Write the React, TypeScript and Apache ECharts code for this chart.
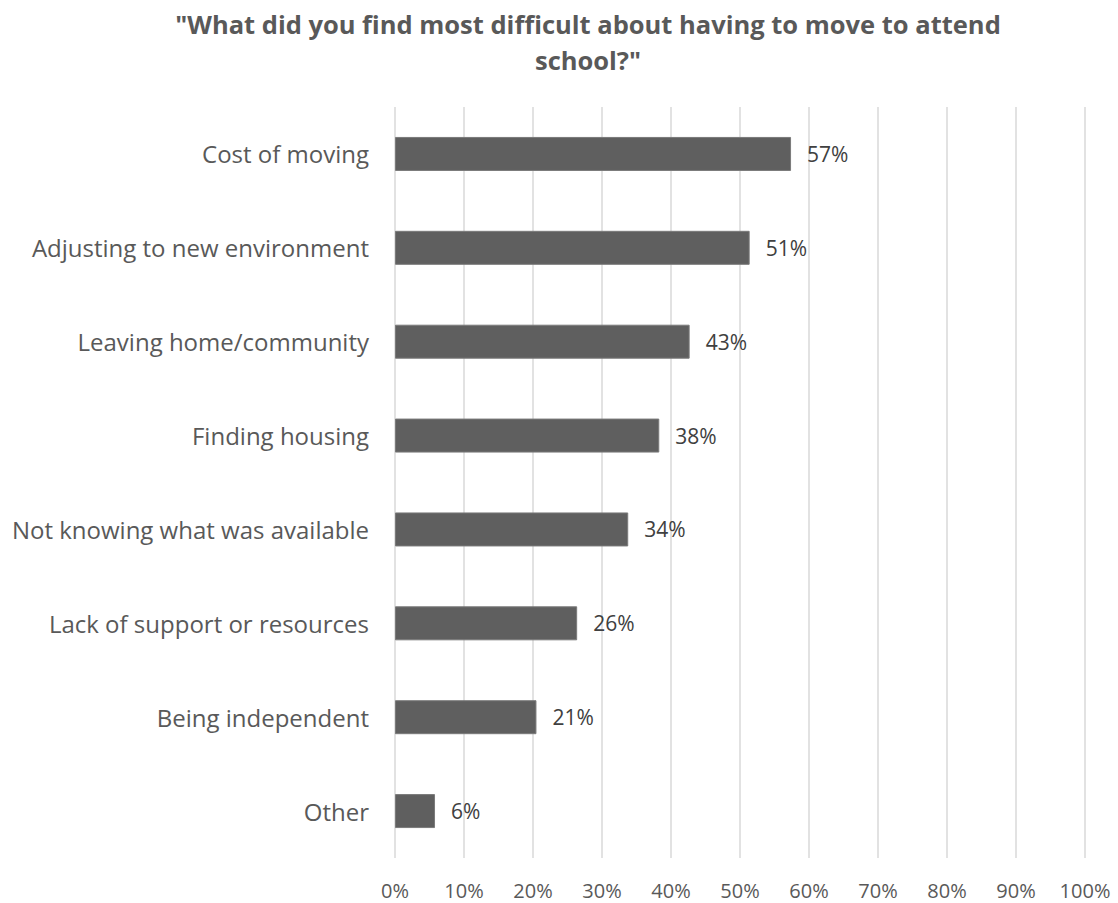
import React, { useEffect, useRef } from "react";
import * as echarts from "echarts";

const categories = [
  "Cost of moving",
  "Adjusting to new environment",
  "Leaving home/community",
  "Finding housing",
  "Not knowing what was available",
  "Lack of support or resources",
  "Being independent",
  "Other",
];
const values = [0.574, 0.514, 0.427, 0.383, 0.338, 0.264, 0.205, 0.058];
const labels = ["57%", "51%", "43%", "38%", "34%", "26%", "21%", "6%"];
const titleText = '"What did you find most difficult about having to move to attend\nschool?"';

export default function App() {
  const ref = useRef<HTMLDivElement>(null);
  useEffect(() => {
    if (!ref.current) return;
    const chart = echarts.init(ref.current, null, { renderer: "svg" });
    chart.setOption({
      animation: false,
      backgroundColor: "#ffffff",
      title: {
        text: titleText,
        left: 583,
        textAlign: "center",
        top: 1,
        textStyle: {
          fontFamily: "Open Sans",
          fontWeight: "bold",
          fontSize: 25.5,
          color: "#595959",
          lineHeight: 36,
        },
      },
      grid: { left: 395, right: 33, top: 107, bottom: 45, containLabel: false },
      xAxis: {
        type: "value",
        min: 0,
        max: 1,
        interval: 0.1,
        axisLine: { show: false },
        axisTick: { show: false },
        splitLine: { show: true, lineStyle: { color: "#d9d9d9", width: 1.5 } },
        axisLabel: {
          margin: 22,
          fontFamily: "Open Sans",
          fontSize: 20,
          color: "#595959",
          formatter: (v: number) => Math.round(v * 100) + "%",
        },
      },
      yAxis: {
        type: "category",
        data: categories,
        inverse: true,
        axisLine: { show: false },
        axisTick: { show: false },
        axisLabel: {
          margin: 26,
          fontFamily: "Open Sans",
          fontSize: 24,
          color: "#595959",
        },
      },
      series: [
        {
          type: "bar",
          data: values,
          barWidth: 34,
          itemStyle: { color: "#5f5f5f", borderColor: "#7a7a7a", borderWidth: 1 },
          label: {
            show: true,
            position: "right",
            distance: 16,
            fontFamily: "Open Sans",
            fontSize: 21,
            color: "#404040",
            formatter: (p: any) => labels[p.dataIndex],
          },
        },
      ],
    });
    return () => chart.dispose();
  }, []);
  return (
    <div
      ref={ref}
      style={{ position: "fixed", left: 0, top: 0, width: 1118, height: 903 }}
    />
  );
}
